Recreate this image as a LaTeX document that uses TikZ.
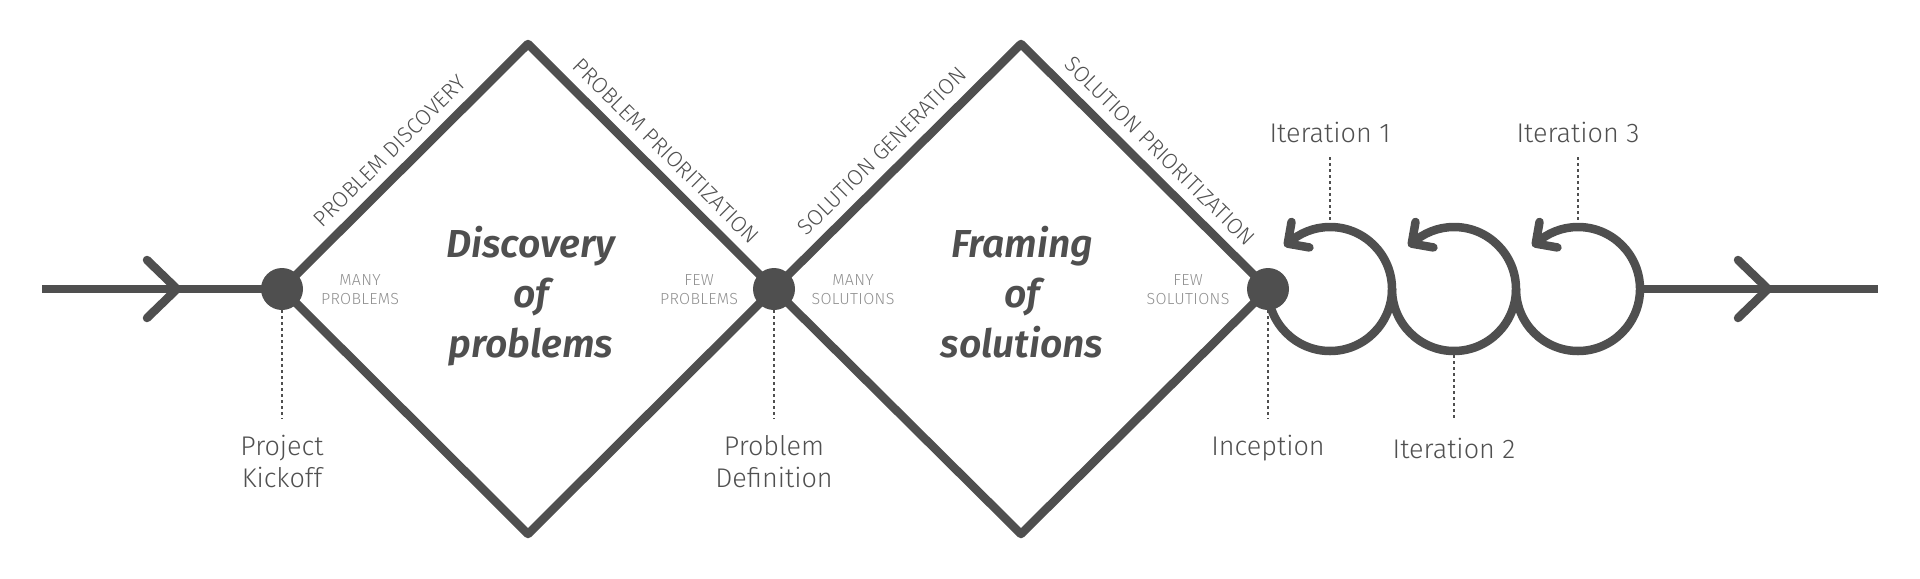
\documentclass[tikz,border=0pt]{standalone}
\usepackage{fontspec}
\setmainfont{Fira Sans}
\newfontfamily\lightfont{Fira Sans Light}
\newfontfamily\titlefont{Fira Sans SemiBold Italic}
\usetikzlibrary{calc,backgrounds}
\definecolor{ink}{HTML}{4F4F4F}
\definecolor{txt}{HTML}{505050}
\definecolor{soft}{HTML}{8F8F8F}
\begin{document}
\begin{tikzpicture}[x=0.5pt,y=-0.5pt,
  mainline/.style={draw=ink,line width=4.25pt,line join=round},
  chev/.style={draw=ink,line width=4.25pt,line cap=round,line join=round},
  dot/.style={circle,fill=ink,minimum size=21pt,inner sep=0pt},
  guide/.style={draw=ink,line width=0.6pt,dash pattern=on 1.5pt off 1.5pt},
  lbl/.style={text=txt,font=\lightfont\fontsize{13.5}{16}\selectfont,align=center,anchor=base,inner sep=0pt},
  ttl/.style={text=ink,font=\titlefont\fontsize{19.5}{25}\selectfont,align=center,anchor=base,inner sep=0pt},
  state/.style={text=soft,font=\lightfont\fontsize{8}{9.5}\selectfont\addfontfeature{LetterSpace=2},align=center,anchor=base,inner sep=0pt},
  diag/.style={text=txt,font=\lightfont\fontsize{11}{12}\selectfont,midway,sloped,above=1.5pt}]
\useasboundingbox (0,0) rectangle (1920,578);

% key points
\node[dot] (d1) at (282,289) {};
\node[dot] (d2) at (774,289) {};
\node[dot] (d3) at (1268,289) {};
\coordinate (t1) at (528,44);
\coordinate (b1) at (528,534);
\coordinate (t2) at (1021,44);
\coordinate (b2) at (1021,534);
\coordinate (start) at (42,289);
\coordinate (ch1) at (177,289);
\coordinate (c12) at (1392,289);
\coordinate (c23) at (1516,289);
\coordinate (c3r) at (1640,289);
\coordinate (ch2) at (1768,289);
\coordinate (finish) at (1878,289);

\begin{scope}[on background layer]
  % incoming line
  \draw[mainline] (start) -- (d1.center);
  \draw[chev] ($(ch1)+(-30,-29)$) -- (ch1) -- ($(ch1)+(-30,29)$);
  % diamond 1
  \draw[mainline] (d1.center) -- node[diag]{PROBLEM DISCOVERY} (t1)
     -- node[diag]{PROBLEM PRIORITIZATION} (d2.center) -- (b1) -- cycle;
  % diamond 2
  \draw[mainline] (d2.center) -- node[diag]{SOLUTION GENERATION} (t2)
     -- node[diag]{SOLUTION PRIORITIZATION} (d3.center) -- (b2) -- cycle;
  % loops
  \draw[mainline] (d3.center) arc[start angle=180,end angle=493,radius=31pt] coordinate (e1);
  \draw[chev] ($(e1)+(3.8,-21.7)$) -- (e1) -- ($(e1)+(21.7,3.8)$);
  \draw[mainline] (c12) arc[start angle=180,end angle=493,radius=31pt] coordinate (e2);
  \draw[chev] ($(e2)+(3.8,-21.7)$) -- (e2) -- ($(e2)+(21.7,3.8)$);
  \draw[mainline] (c23) arc[start angle=180,end angle=493,radius=31pt] coordinate (e3);
  \draw[chev] ($(e3)+(3.8,-21.7)$) -- (e3) -- ($(e3)+(21.7,3.8)$);
  % outgoing line
  \draw[mainline] (c3r) -- (finish);
  \draw[chev] ($(ch2)+(-30,-29)$) -- (ch2) -- ($(ch2)+(-30,29)$);
\end{scope}

% titles (base anchor = last line)
\node[ttl] (ttl1) at (531,357) {Discovery\\of\\problems};
\node[ttl] (ttl2) at (1022,357) {Framing\\of\\solutions};

% state labels
\node[state] (s1) at (360,304) {MANY\\PROBLEMS};
\node[state] (s2) at (699,304) {FEW\\PROBLEMS};
\node[state] (s3) at (853,304) {MANY\\SOLUTIONS};
\node[state] (s4) at (1188,304) {FEW\\SOLUTIONS};

% milestone labels
\node[lbl] (l1) at (282,487) {Project\\Kickoff};
\node[lbl] (l2) at (774,487) {Problem\\Definition};
\node[lbl] (l3) at (1268,455) {Inception};
\node[lbl] (l4) at (1454,458) {Iteration 2};
\node[lbl] (i1) at (1330,142) {Iteration 1};
\node[lbl] (i3) at (1578,142) {Iteration 3};

\coordinate (g1) at (282,419);
\coordinate (g2) at (774,419);
\coordinate (g3) at (1268,419);
\coordinate (g4a) at (1454,355);
\coordinate (g4) at (1454,419);
\coordinate (g5a) at (1330,157);
\coordinate (g5) at (1330,223);
\coordinate (g6a) at (1578,157);
\coordinate (g6) at (1578,223);
\draw[guide] (d1.south) -- (g1);
\draw[guide] (d2.south) -- (g2);
\draw[guide] (d3.south) -- (g3);
\draw[guide] (g4a) -- (g4);
\draw[guide] (g5a) -- (g5);
\draw[guide] (g6a) -- (g6);
\end{tikzpicture}
\end{document}
